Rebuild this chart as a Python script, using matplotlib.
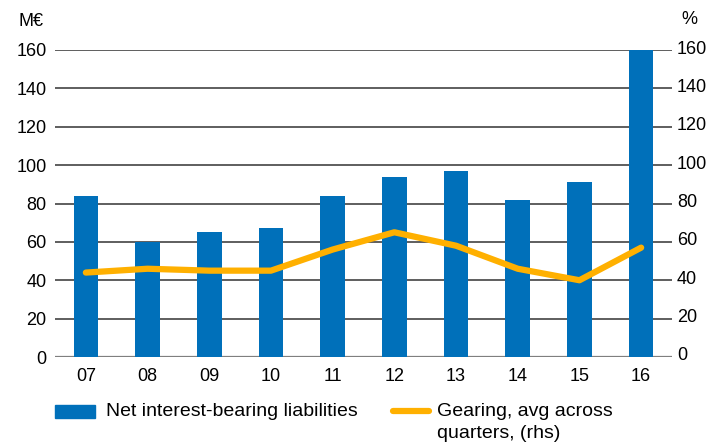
import matplotlib.pyplot as plt
from matplotlib.patches import Rectangle
from matplotlib.lines import Line2D
from matplotlib.transforms import ScaledTranslation

plt.rcParams['font.family'] = ['Liberation Sans', 'DejaVu Sans']

years = ['07', '08', '09', '10', '11', '12', '13', '14', '15', '16']
liabilities = [84, 60, 65, 67, 84, 94, 97, 82, 91, 160]
gearing = [44, 46, 45, 45, 56, 65, 58, 46, 40, 57]
ticks = [0, 20, 40, 60, 80, 100, 120, 140, 160]

blue = '#0070ba'
orange = '#ffb000'
grid = '#333333'

W, H = 726, 446
fig = plt.figure(figsize=(W / 100, H / 100), dpi=100)
ax = fig.add_axes([55 / W, 1 - 357 / H, 617 / W, 307 / H])
x = list(range(len(years)))

for t in ticks:
    ax.axhline(t, color='#7f7f7f' if t == 0 else grid, lw=1.6 if t == 0 else 1.1, zorder=1)
ax.bar(x, liabilities, width=0.4, color=blue, zorder=2)
ax.set_xlim(-0.5, 9.5)
ax.set_ylim(0, 160)
ax.set_yticks(ticks)
ax.set_xticks(x)
ax.set_xticklabels(years)
ax.tick_params(axis='both', length=0, labelsize=13, colors='black')
ax.tick_params(axis='y', pad=6)
ax.tick_params(axis='x', pad=8)
for s in ax.spines.values():
    s.set_visible(False)

ax2 = ax.twinx()
ax2.plot(x, gearing, color=orange, lw=4.5, solid_capstyle='round', zorder=3)
ax2.set_ylim(0, 160)
ax2.set_yticks(ticks)
ax2.tick_params(axis='y', length=0, labelsize=13, pad=3.5)
for s in ax2.spines.values():
    s.set_visible(False)
shift = ScaledTranslation(0, 0.03, fig.dpi_scale_trans)
for lab in ax2.get_yticklabels():
    lab.set_transform(lab.get_transform() + shift)

fig.text(19 / W, 1 - 21 / H, 'M€', fontsize=13, va='center')
fig.text(681 / W, 1 - 19 / H, '%', fontsize=13, va='center')

# legend drawn by hand so the line sits on the first text row
fig.add_artist(Rectangle((55 / W, 1 - 418 / H), 40 / W, 13 / H,
                         transform=fig.transFigure, color=blue))
fig.text(106 / W, 1 - 412 / H, 'Net interest-bearing liabilities',
         fontsize=14, va='center')
fig.add_artist(Line2D([393 / W, 429 / W], [1 - 411 / H, 1 - 411 / H],
                      transform=fig.transFigure, color=orange, lw=4.5,
                      solid_capstyle='round'))
fig.text(437 / W, 1 - 412 / H, 'Gearing, avg across', fontsize=14, va='center')
fig.text(437 / W, 1 - 434 / H, 'quarters, (rhs)', fontsize=14, va='center')

fig.savefig('out.png', dpi=100)
